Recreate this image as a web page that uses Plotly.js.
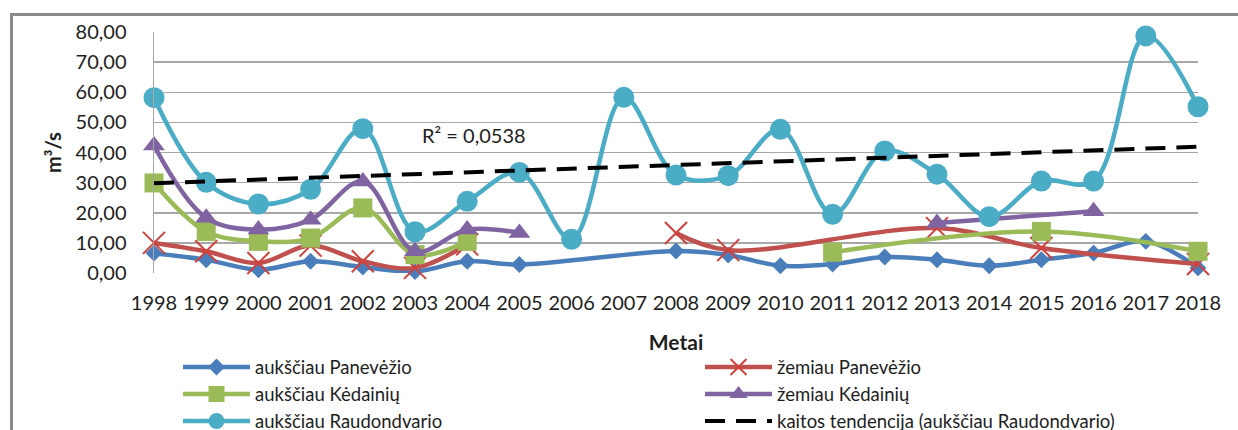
<!DOCTYPE html>
<html>
<head>
<meta charset="utf-8">
<script src="https://cdn.plot.ly/plotly-3.0.1.min.js"></script>
<style>
  html, body { margin:0; padding:0; background:#fff; overflow:hidden; }
  #chart { position:absolute; left:0; top:0; width:1238px; height:430px; }
  #frame { position:absolute; left:10px; top:13px; width:1400px; height:600px;
           border-left:3px solid #8a8a8a; border-top:3px solid #8a8a8a; pointer-events:none; }
</style>
</head>
<body>
<div id="chart"></div>
<div id="frame"></div>
<script>
// ---- data ----
const years = [1998,1999,2000,2001,2002,2003,2004,2005,2006,2007,2008,2009,2010,2011,2012,2013,2014,2015,2016,2017,2018];

const aukPanevezio = [6.6,4.4,1.1,3.9,2.0,0.5,3.9,2.8,null,null,7.3,6.0,2.4,3.0,5.3,4.4,2.4,4.4,6.6,10.5,1.7];
const zemPanevezio = [10.0,7.2,3.3,9.1,3.9,1.7,9.5,null,null,null,13.3,7.6,null,null,null,14.9,null,8.3,null,null,3.0];
const aukKedainiu  = [29.9,13.8,10.5,11.6,21.6,6.1,10.5,null,null,null,null,null,null,6.9,null,null,null,13.8,null,null,7.2];
const zemKedainiu  = [42.3,18.3,14.4,17.7,30.4,7.2,14.4,13.3,null,null,null,null,null,null,null,16.6,null,null,20.5,null,null];
const aukRaudondvario = [58.2,30.1,22.9,27.8,47.9,13.7,23.8,33.4,11.2,58.3,32.5,32.3,47.7,19.5,40.5,32.8,18.7,30.5,30.5,78.7,55.2];

// trend line (read endpoints) and its R²
const trendYears = [1998, 2018];
const trendValues = [29.8, 41.9];
const r2Text = "R² = 0,0538";

// segments of each series that the original chart draws as one connected line
const segPanevezioAuk = [[1998, 2018]];
const segPanevezioZem = [[1998, 2004], [2008, 2018]];
const segKedainiuAuk  = [[1998, 2004], [2011, 2018]];
const segKedainiuZem  = [[1998, 2005], [2013, 2016]];
const segRaudondvario = [[1998, 2018]];

const seriesNames = ["aukščiau Panevėžio","žemiau Panevėžio","aukščiau Kėdainių","žemiau Kėdainių","aukščiau Raudondvario","kaitos tendencija (aukščiau Raudondvario)"];

// ---- build traces ----
function build(values, segments) {
  const x = [], y = [];
  segments.forEach((seg, k) => {
    if (k > 0) { x.push(null); y.push(null); }
    years.forEach((yr, i) => {
      if (yr >= seg[0] && yr <= seg[1] && values[i] !== null) { x.push(yr); y.push(values[i]); }
    });
  });
  return {x, y};
}

function lineTrace(values, segments, name, color, marker, legend) {
  const d = build(values, segments);
  return {
    type: 'scatter', mode: 'lines+markers', name: name, legend: legend,
    x: d.x, y: d.y, connectgaps: false, cliponaxis: false,
    line: {color: color, width: 4.5, shape: 'spline', smoothing: 1},
    marker: Object.assign({color: color}, marker)
  };
}

const traces = [
  lineTrace(aukPanevezio, segPanevezioAuk, seriesNames[0], '#4a7ebb', {symbol: 'diamond', size: 13}, 'legend'),
  lineTrace(zemPanevezio, segPanevezioZem, seriesNames[1], '#c0504d',
            {symbol: 'x-thin', size: 22, line: {color: '#d0413c', width: 2}}, 'legend2'),
  lineTrace(aukKedainiu, segKedainiuAuk, seriesNames[2], '#9bbb59', {symbol: 'square', size: 19}, 'legend'),
  lineTrace(zemKedainiu, segKedainiuZem, seriesNames[3], '#8064a2', {symbol: 'triangle-up', size: 19}, 'legend2'),
  lineTrace(aukRaudondvario, segRaudondvario, seriesNames[4], '#4bacc6', {symbol: 'circle', size: 21}, 'legend'),
  {
    type: 'scatter', mode: 'lines', name: seriesNames[5], legend: 'legend2',
    x: trendYears, y: trendValues, cliponaxis: false,
    line: {color: '#000', width: 4, dash: '20px,11px'}
  }
];

const font = {family: 'Lato, "Open Sans", sans-serif', color: '#1e1e1e'};

const legendBase = {
  orientation: 'v', xanchor: 'left', y: -0.313, yanchor: 'top',
  font: Object.assign({size: 18.5}, font),
  itemwidth: 67, traceorder: 'normal', tracegroupgap: 0,
  bgcolor: 'rgba(0,0,0,0)', borderwidth: 0
};

const layout = {
  width: 1238, height: 430,
  margin: {l: 154, r: 40, t: 32, b: 157, autoexpand: false},
  paper_bgcolor: 'rgba(0,0,0,0)', plot_bgcolor: 'rgba(0,0,0,0)',
  separators: ', ',
  font: Object.assign({size: 20}, font),
  showlegend: true,
  xaxis: {
    range: [1998, 2018], tickmode: 'array', tickvals: years, ticktext: years.map(String),
    showgrid: false, zeroline: false, showline: false, ticks: '',
    ticklabelstandoff: 16,
    tickfont: Object.assign({size: 20}, font),
    title: {text: '<b>Metai</b>', font: Object.assign({size: 21}, font), standoff: 22}
  },
  yaxis: {
    range: [0, 80], dtick: 10, tickformat: '.2f',
    showgrid: true, gridcolor: '#a8a8a8', gridwidth: 1.5,
    zeroline: false, showline: true, linecolor: '#a8a8a8', linewidth: 1.5, ticks: '',
    ticklabelstandoff: 22,
    tickfont: Object.assign({size: 20}, font),
    title: {text: '<b>m³/s</b>', font: Object.assign({size: 20}, font), standoff: 8}
  },
  legend: Object.assign({x: 0.023}, legendBase),
  legend2: Object.assign({x: 0.523}, legendBase),
  annotations: [{
    x: 2004.13, y: 45.9, xref: 'x', yref: 'y', text: r2Text, showarrow: false,
    font: Object.assign({size: 20}, font)
  }]
};

Plotly.newPlot('chart', traces, layout, {staticPlot: true, displayModeBar: false});
</script>
</body>
</html>
